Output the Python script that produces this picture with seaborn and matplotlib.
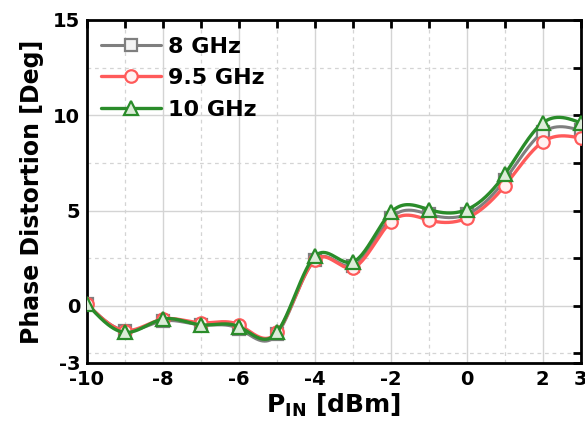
import numpy as np
import pandas as pd
import matplotlib
matplotlib.use("Agg")
import matplotlib.pyplot as plt
import seaborn as sns
from matplotlib.ticker import MultipleLocator

# ---- data ----
p_in = [-10, -9, -8, -7, -6, -5, -4, -3, -2, -1, 0, 1, 2, 3]
ph_8ghz = [0.1, -1.3, -0.8, -1.0, -1.2, -1.5, 2.4, 2.1, 4.6, 4.8, 4.8, 6.6, 9.1, 9.2]
ph_9p5ghz = [0.1, -1.3, -0.7, -0.9, -1.0, -1.4, 2.4, 2.0, 4.4, 4.5, 4.6, 6.3, 8.6, 8.8]
ph_10ghz = [0.1, -1.4, -0.7, -1.0, -1.1, -1.4, 2.6, 2.3, 4.9, 5.05, 5.05, 6.9, 9.6, 9.6]
labels = ["8 GHz", "9.5 GHz", "10 GHz"]

sns.set_theme(style="white")
plt.rcParams["font.family"] = ["DejaVu Sans"]
plt.rcParams["font.weight"] = "bold"
plt.rcParams["axes.unicode_minus"] = False
plt.rcParams["mathtext.fontset"] = "dejavusans"
plt.rcParams["text.color"] = "black"
plt.rcParams["axes.labelcolor"] = "black"
plt.rcParams["xtick.color"] = "black"
plt.rcParams["ytick.color"] = "black"


def spline_curve(x, y, n=40):
    """Natural cubic spline rendering through the data points."""
    x = np.asarray(x, float)
    y = np.asarray(y, float)
    m = len(x)
    h = np.diff(x)
    A = np.zeros((m, m))
    b = np.zeros(m)
    A[0, 0] = 1
    A[-1, -1] = 1
    for i in range(1, m - 1):
        A[i, i - 1] = h[i - 1]
        A[i, i] = 2 * (h[i - 1] + h[i])
        A[i, i + 1] = h[i]
        b[i] = 6 * ((y[i + 1] - y[i]) / h[i] - (y[i] - y[i - 1]) / h[i - 1])
    M = np.linalg.solve(A, b)
    xs, ys, idx = [], [], []
    for i in range(m - 1):
        t = np.linspace(x[i], x[i + 1], n, endpoint=False)
        a = x[i + 1] - t
        c = t - x[i]
        s = (M[i] * a ** 3 / (6 * h[i]) + M[i + 1] * c ** 3 / (6 * h[i])
             + (y[i] / h[i] - M[i] * h[i] / 6) * a
             + (y[i + 1] / h[i] - M[i + 1] * h[i] / 6) * c)
        idx.append(len(xs))
        xs.extend(t)
        ys.extend(s)
    idx.append(len(xs))
    xs.append(x[-1])
    ys.append(y[-1])
    return np.array(xs), np.array(ys), idx


fig = plt.figure(figsize=(5.85, 4.3), dpi=100)
ax = fig.add_axes([0.1487, 0.156, 0.844, 0.7975])

styles = [
    dict(color="#7f7f7f", marker="s", mfc="#f4f4f4", ms=8, lw=2.2, z=3),
    dict(color="#ff5a5a", marker="o", mfc="#fff2f2", ms=9, lw=2.4, z=4),
    dict(color="#2a8c2a", marker="^", mfc="#dcecd8", ms=10, lw=2.4, z=5),
]
for vals, lab, st in zip([ph_8ghz, ph_9p5ghz, ph_10ghz], labels, styles):
    xs, ys, idx = spline_curve(p_in, vals)
    df = pd.DataFrame({"x": xs, "y": ys})
    sns.lineplot(data=df, x="x", y="y", ax=ax, color=st["color"], lw=st["lw"],
                 marker=st["marker"], markevery=idx, markersize=st["ms"],
                 markerfacecolor=st["mfc"], markeredgecolor=st["color"],
                 markeredgewidth=1.6, label=lab, zorder=st["z"], sort=False)

ax.set_xlim(-10, 3)
ax.set_ylim(-3, 15)
ax.set_xticks([-10, -8, -6, -4, -2, 0, 2, 3])
ax.set_yticks([-3, 0, 5, 10, 15])
ax.xaxis.set_minor_locator(MultipleLocator(1))
ax.yaxis.set_minor_locator(MultipleLocator(2.5))

ax.grid(True, which="major", color="#d4d4d4", lw=1.0, ls="-", zorder=0)
ax.grid(True, which="minor", color="#d4d4d4", lw=0.9, ls=(0, (3, 3)), zorder=0)
ax.set_axisbelow(True)

for sp in ax.spines.values():
    sp.set_color("black")
    sp.set_linewidth(2.0)
ax.tick_params(which="both", direction="in", top=True, right=True,
               length=6, width=2.0, color="black", labelcolor="black",
               labelsize=14, pad=5)
for lab in ax.get_xticklabels() + ax.get_yticklabels():
    lab.set_fontweight("bold")

ax.set_xlabel(r"P$_{\mathbf{IN}}$ [dBm]", fontsize=18, fontweight="bold",
              labelpad=2, color="black")
ax.set_ylabel("Phase Distortion [Deg]", fontsize=17, fontweight="bold",
              labelpad=6, color="black")

leg = ax.legend(loc="upper left", frameon=False, fontsize=16, handlelength=2.7,
                handletextpad=0.35, labelspacing=0.52, borderaxespad=0.3,
                borderpad=0.45, bbox_to_anchor=(-0.006, 1.0))
for t in leg.get_texts():
    t.set_fontweight("bold")
    t.set_color("black")

fig.savefig("out.png", dpi=100)
